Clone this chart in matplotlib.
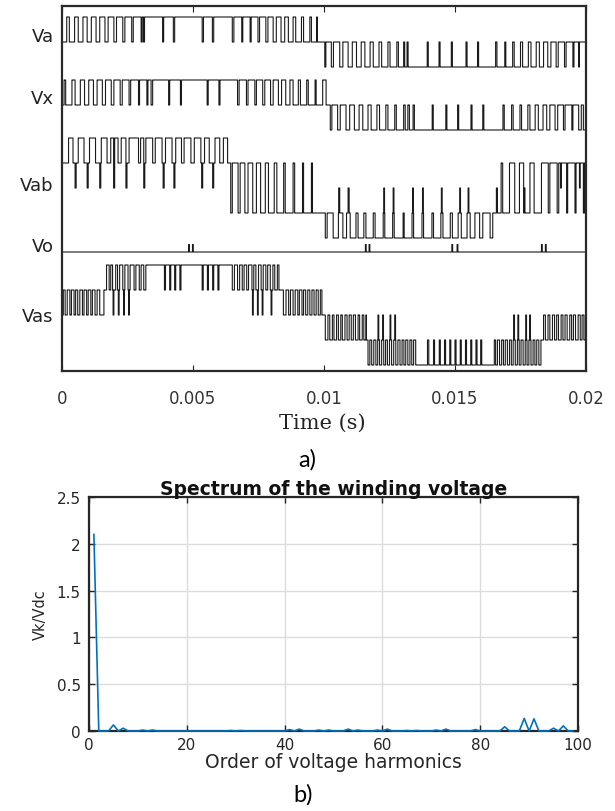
import numpy as np
import matplotlib.pyplot as plt

# ---- panel a) switching waveforms, times in ms, levels in voltage steps ----
trace_names = ['Va', 'Vx', 'Vab', 'Vo', 'Vas']

va_high = [(0.18, 0.28), (0.48, 0.62), (0.80, 0.96), (1.12, 1.30), (1.44, 1.64),
           (1.76, 1.98), (2.08, 2.32), (2.40, 2.66), (2.72, 3.02), (3.06, 3.11),
           (3.15, 3.84), (3.88, 4.25), (4.30, 5.35), (5.40, 5.74), (5.79, 6.50),
           (6.56, 6.86), (6.90, 7.18), (7.22, 7.48), (7.54, 7.78), (7.86, 8.06),
           (8.18, 8.36), (8.50, 8.64), (8.82, 8.92), (9.14, 9.22), (9.46, 9.52),
           (9.72, 9.75)]
va_low = [(10.03, 10.07), (10.28, 10.36), (10.60, 10.72), (10.92, 11.08), (11.24, 11.42),
          (11.56, 11.76), (11.88, 12.10), (12.20, 12.44), (12.52, 12.78), (12.84, 13.04),
          (13.08, 13.17), (13.21, 13.94), (13.98, 14.39), (14.43, 14.86), (14.90, 15.42),
          (15.46, 15.86), (15.90, 16.55), (16.60, 16.90), (16.94, 17.20), (17.26, 17.50),
          (17.58, 17.80), (17.90, 18.10), (18.22, 18.38), (18.54, 18.66), (18.86, 18.94),
          (19.18, 19.24), (19.50, 19.54), (19.72, 19.75)]

vx_high = [(0.08, 0.14), (0.38, 0.50), (0.70, 0.86), (1.02, 1.20), (1.34, 1.54),
           (1.66, 1.88), (1.98, 2.22), (2.30, 2.56), (2.62, 2.92), (2.96, 3.24),
           (3.28, 3.40), (3.46, 4.07), (4.11, 4.52), (4.56, 5.54), (5.58, 5.99),
           (6.03, 6.70), (6.76, 7.04), (7.10, 7.36), (7.42, 7.66), (7.74, 7.96),
           (8.06, 8.26), (8.38, 8.54), (8.70, 8.82), (9.02, 9.10), (9.34, 9.40),
           (9.66, 9.70), (9.95, 10.08)]
vx_low = [(10.24, 10.30), (10.52, 10.62), (10.84, 10.98), (11.16, 11.34), (11.48, 11.68),
          (11.80, 12.02), (12.12, 12.36), (12.44, 12.70), (12.76, 13.04), (13.10, 13.20),
          (13.26, 13.40), (13.45, 14.13), (14.17, 14.65), (14.69, 15.10), (15.14, 15.61),
          (15.65, 16.06), (16.10, 16.83), (16.88, 17.16), (17.22, 17.48), (17.54, 17.78),
          (17.86, 18.06), (18.18, 18.36), (18.50, 18.62), (18.82, 18.92), (19.14, 19.20),
          (19.46, 19.50), (19.72, 19.82), (19.90, 19.98)]

vab_base = [(0.0, 9.80, 1), (9.80, 20.01, -1)]
vab_p2 = [(0.25, 0.42), (0.62, 0.84), (1.05, 1.28), (1.50, 1.72), (1.86, 2.14),
          (2.26, 2.46), (2.56, 2.92), (3.00, 3.12), (3.20, 3.46), (3.56, 3.82),
          (3.95, 4.20), (4.34, 4.56), (4.66, 4.92), (5.05, 5.30), (5.44, 5.62),
          (5.84, 6.02), (6.16, 6.32)]
vab_p1 = [(16.76, 16.82), (17.08, 17.28), (17.46, 17.62), (17.86, 18.02), (18.30, 18.56),
          (18.62, 18.90), (18.96, 19.26), (19.30, 19.58), (19.62, 19.90), (19.94, 20.01)]
vab_m1 = [(6.44, 6.50), (6.72, 6.80), (6.98, 7.10), (7.28, 7.42), (7.58, 7.76),
          (7.88, 8.10), (8.20, 8.46), (8.52, 8.82), (8.88, 9.18), (9.22, 9.52), (9.56, 9.80)]
vab_m2 = [(10.05, 10.12), (10.35, 10.55), (10.72, 10.86), (11.00, 11.22), (11.30, 11.52),
          (11.60, 11.88), (11.95, 12.26), (12.32, 12.62), (12.68, 13.02), (13.06, 13.36),
          (13.42, 13.74), (13.80, 14.12), (14.18, 14.46), (14.54, 14.82), (14.90, 15.12),
          (15.24, 15.46), (15.58, 15.76), (15.94, 16.06), (16.34, 16.44)]
vab_zero = [(0.50, 0.54), (0.96, 1.00), (1.44, 1.48), (1.97, 2.01), (2.44, 2.48),
            (3.12, 3.16), (3.86, 3.90), (4.27, 4.31), (5.33, 5.37), (5.75, 5.79),
            (10.56, 10.60), (10.92, 10.96), (12.28, 12.31), (12.64, 12.67), (13.38, 13.41),
            (13.76, 13.79), (14.48, 14.51), (15.18, 15.21), (15.50, 15.53), (16.58, 16.62),
            (17.64, 17.67), (19.03, 19.06), (19.75, 19.78)]

vo_spikes = [(4.83, 4.86), (4.98, 5.01), (11.58, 11.61), (11.72, 11.75),
             (14.88, 14.91), (15.08, 15.11), (18.30, 18.33), (18.45, 18.48)]
vo_spike_level = 0.3

vas_base = [(0.0, 1.60, 0), (1.60, 8.45, 1), (8.45, 11.62, 0), (11.62, 18.38, -1), (18.38, 20.01, 0)]
vas_p1 = [(0.05, 0.12), (0.20, 0.30), (0.36, 0.46), (0.52, 0.60), (0.68, 0.78),
          (0.84, 0.94), (1.00, 1.10), (1.16, 1.26), (1.34, 1.44),
          (8.55, 8.65), (8.72, 8.82), (8.90, 9.00), (9.06, 9.16), (9.22, 9.30),
          (9.38, 9.46), (9.54, 9.62), (9.70, 9.78), (9.86, 9.92)]
vas_p2 = [(1.70, 1.80), (1.86, 1.93), (2.05, 2.12), (2.20, 2.32), (2.40, 2.52),
          (2.60, 2.75), (2.82, 2.95), (3.02, 3.12), (3.20, 3.91), (3.95, 4.11),
          (4.15, 4.30), (4.34, 4.50), (4.54, 5.35), (5.39, 5.55), (5.59, 5.75),
          (5.79, 5.95), (5.99, 6.50), (6.58, 6.70), (6.78, 6.88), (6.95, 7.05),
          (7.12, 7.25), (7.32, 7.40), (7.50, 7.60), (7.68, 7.78), (7.85, 7.95),
          (8.05, 8.12), (8.22, 8.28)]
vas_m1 = [(10.05, 10.15), (10.22, 10.32), (10.38, 10.48), (10.55, 10.64), (10.70, 10.80),
          (10.88, 10.96), (11.04, 11.12), (11.20, 11.30), (11.36, 11.46), (11.52, 11.60),
          (18.45, 18.55), (18.62, 18.72), (18.80, 18.88), (18.95, 19.05), (19.12, 19.20),
          (19.28, 19.38), (19.45, 19.52), (19.60, 19.70), (19.78, 19.85), (19.92, 19.98)]
vas_m2 = [(11.68, 11.75), (11.82, 11.90), (11.98, 12.05), (12.12, 12.20), (12.28, 12.35),
          (12.42, 12.50), (12.58, 12.66), (12.74, 12.82), (12.90, 12.98), (13.05, 13.12),
          (13.20, 13.28), (13.35, 13.42), (13.50, 13.95), (14.00, 14.18), (14.22, 14.40),
          (14.44, 14.60), (14.64, 14.80), (14.84, 15.00), (15.04, 15.20), (15.24, 15.40),
          (15.44, 15.60), (15.64, 15.80), (15.84, 15.98), (16.02, 16.50), (16.55, 16.62),
          (16.70, 16.78), (16.85, 16.92), (17.00, 17.08), (17.15, 17.22), (17.30, 17.38),
          (17.45, 17.52), (17.60, 17.68), (17.75, 17.82), (17.90, 17.98), (18.05, 18.12),
          (18.20, 18.28)]
vas_zero = [(1.95, 1.98), (2.15, 2.18), (2.35, 2.38), (2.54, 2.57),
            (7.27, 7.30), (7.46, 7.49), (7.64, 7.67), (7.98, 8.01),
            (12.06, 12.09), (12.24, 12.27), (12.52, 12.55), (12.70, 12.73),
            (17.24, 17.27), (17.40, 17.43), (17.70, 17.73), (17.85, 17.88)]

# ---- panel b) harmonic spectrum ----
harm_order = np.arange(1, 100)
peak_orders = [1, 5, 7, 11, 13, 29, 31, 41, 43, 47, 49, 53, 55, 59, 61, 65, 67,
               71, 73, 79, 85, 89, 91, 95, 97]
peak_values = [2.1, 0.065, 0.03, 0.01, 0.01, 0.005, 0.005, 0.015, 0.02, 0.01, 0.01,
               0.02, 0.01, 0.01, 0.02, 0.005, 0.005, 0.01, 0.02, 0.015, 0.045,
               0.135, 0.13, 0.03, 0.055]

# ---- build waveforms ----
t_ms = np.arange(0, 20.0001, 0.002)


def waveform(base, pulses):
    y = np.zeros_like(t_ms)
    for a, b, lev in base:
        y[(t_ms >= a) & (t_ms < b)] = lev
    for lev, lst in pulses:
        for a, b in lst:
            y[(t_ms >= a) & (t_ms < b)] = lev
    return y


va = waveform([], [(1, va_high), (-1, va_low)])
vx = waveform([], [(1, vx_high), (-1, vx_low)])
vab = waveform(vab_base, [(1, vab_p1), (-1, vab_m1), (2, vab_p2), (-2, vab_m2), (0, vab_zero)])
vo = waveform([], [(vo_spike_level, vo_spikes)])
vas = waveform(vas_base, [(1, vas_p1), (-1, vas_m1), (2, vas_p2), (-2, vas_m2), (0, vas_zero)])
traces = [va, vx, vab, vo, vas]

spectrum = np.zeros(len(harm_order))
for k, v in zip(peak_orders, peak_values):
    spectrum[k - 1] = v

# ---- figure ----
fig = plt.figure(figsize=(6.15, 8.12), dpi=100)

# top axes uses pixel rows as y so the traces can be stacked
ax1 = fig.add_axes([62/615, 1-372/812, 524/615, 365/812])
zero_rows = [43, 106, 189, 253, 316]
label_rows = [35, 97, 184, 245, 315]
step_px = 25

for y, row in zip(traces, zero_rows):
    ax1.plot(t_ms / 1000, row - step_px * y, color='#1a1a1a', lw=0.8,
             drawstyle='steps-post')

ax1.set_xlim(0, 0.02)
ax1.set_ylim(372, 7)
ax1.set_xticks([0, 0.005, 0.01, 0.015, 0.02], ['0', '0.005', '0.01', '0.015', '0.02'])
ax1.set_yticks(label_rows, trace_names)
ax1.tick_params(axis='x', direction='in', top=True, length=4, pad=13,
                labelsize=12, color='#222222', labelcolor='#333333')
ax1.tick_params(axis='y', length=0, pad=6, labelsize=13, labelcolor='#222222')
for s in ax1.spines.values():
    s.set_linewidth(1.6)
    s.set_color('#2a2a2a')

fig.text(322/615, 1-423/812, 'Time (s)', family='DejaVu Serif', size=15,
         ha='center', va='center', color='#222222')
fig.text(307/615, 1-460/812, 'a)', family='Lato', size=17, ha='center', va='center')

# bottom axes, matlab look
ax2 = fig.add_axes([89/615, 1-732/812, 489/615, 234/812])
ax2.plot(harm_order, spectrum, color='#0072BD', lw=1.2, zorder=3, clip_on=False)
ax2.set_xlim(0, 100)
ax2.set_ylim(0, 2.5)
ax2.set_xticks([0, 20, 40, 60, 80, 100])
ax2.set_yticks([0, 0.5, 1, 1.5, 2, 2.5], ['0', '0.5', '1', '1.5', '2', '2.5'])
ax2.grid(True, color='#dcdcdc', lw=1)
ax2.set_axisbelow(True)
ax2.tick_params(direction='in', top=True, right=True, length=4, width=1,
                color='#262626', labelcolor='#262626', labelsize=11)
ax2.tick_params(axis='x', pad=4)
ax2.tick_params(axis='y', pad=6)
for s in ax2.spines.values():
    s.set_linewidth(1.6)
    s.set_color('#262626')

ax2.set_title('Spectrum of the winding voltage', fontweight='bold', fontsize=13.5,
              pad=2, color='#111111')
ax2.set_xlabel('Order of voltage harmonics', fontsize=13.5, labelpad=0, color='#262626')
ax2.set_ylabel('Vk/Vdc', fontsize=10.5, labelpad=6, color='#262626')

fig.text(303/615, 1-795/812, 'b)', family='Lato', size=17, ha='center', va='center')

fig.savefig('out.png', dpi=100)
